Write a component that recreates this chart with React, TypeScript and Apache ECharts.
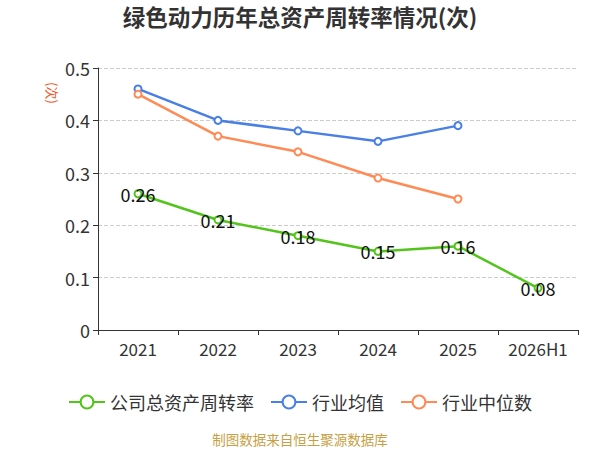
import React, { useEffect, useRef } from "react";
import * as echarts from "echarts";

const categories = ["2021", "2022", "2023", "2024", "2025", "2026H1"];
const companyValues = [0.26, 0.21, 0.18, 0.15, 0.16, 0.08];
const industryAvg = [0.46, 0.40, 0.38, 0.36, 0.39];
const industryMedian = [0.45, 0.37, 0.34, 0.29, 0.25];
const seriesNames = ["公司总资产周转率", "行业均值", "行业中位数"];

export default function App() {
  const ref = useRef<HTMLDivElement>(null);
  useEffect(() => {
    if (!ref.current) return;
    const chart = echarts.init(ref.current, null, { renderer: "svg" });
    const font = "'Noto Sans CJK SC', 'Noto Sans', sans-serif";
    chart.setOption({
      animation: false,
      textStyle: { fontFamily: font },
      title: {
        text: "绿色动力历年总资产周转率情况(次)",
        left: "center",
        top: 0,
        textStyle: { fontSize: 22.5, fontWeight: "bold", color: "#333", fontFamily: font },
      },
      grid: { left: 98, right: 22, top: 68, bottom: 120 },
      legend: {
        top: 388,
        left: "center",
        itemWidth: 36,
        itemHeight: 16,
        itemGap: 16,
        textStyle: { fontSize: 18, color: "#333" },
        data: seriesNames,
      },
      xAxis: {
        type: "category",
        data: categories,
        boundaryGap: true,
        axisLine: { lineStyle: { color: "#333" } },
        axisTick: { show: true, lineStyle: { color: "#333" } },
        axisLabel: { fontSize: 17, color: "#333", margin: 10, interval: 0 },
      },
      yAxis: {
        type: "value",
        min: 0,
        max: 0.5,
        interval: 0.1,
        axisLine: { show: true, lineStyle: { color: "#333" } },
        axisTick: { show: true, lineStyle: { color: "#333" } },
        axisLabel: {
          fontSize: 18,
          color: "#333",
          formatter: (v: number) => (v === 0 ? "0" : String(Math.round(v * 10) / 10)),
        },
        splitLine: { lineStyle: { type: "dashed", color: "#ccc" } },
      },
      graphic: [
        {
          type: "text",
          x: 59,
          y: 82,
          rotation: -Math.PI / 2,
          style: { text: "(次)", fontSize: 13, fill: "#ee5a2a", fontFamily: font },
        },
        {
          type: "text",
          left: "center",
          top: 432,
          style: { text: "制图数据来自恒生聚源数据库", fontSize: 13.5, fill: "#c8a043", fontFamily: font },
        },
      ],
      series: [
        {
          name: seriesNames[0],
          type: "line",
          data: companyValues,
          color: "#52c41a",
          symbol: "emptyCircle",
          symbolSize: 7,
          lineStyle: { width: 2.5 },
          label: { show: true, position: "inside", fontSize: 18, color: "#111" },
        },
        {
          name: seriesNames[1],
          type: "line",
          data: industryAvg,
          color: "#4a7fe6",
          symbol: "emptyCircle",
          symbolSize: 7,
          lineStyle: { width: 2.5 },
        },
        {
          name: seriesNames[2],
          type: "line",
          data: industryMedian,
          color: "#ff8a55",
          symbol: "emptyCircle",
          symbolSize: 7,
          lineStyle: { width: 2.5 },
        },
      ],
    });
    return () => chart.dispose();
  }, []);
  return <div ref={ref} style={{ width: 600, height: 450, position: "absolute", left: 0, top: 0 }} />;
}
